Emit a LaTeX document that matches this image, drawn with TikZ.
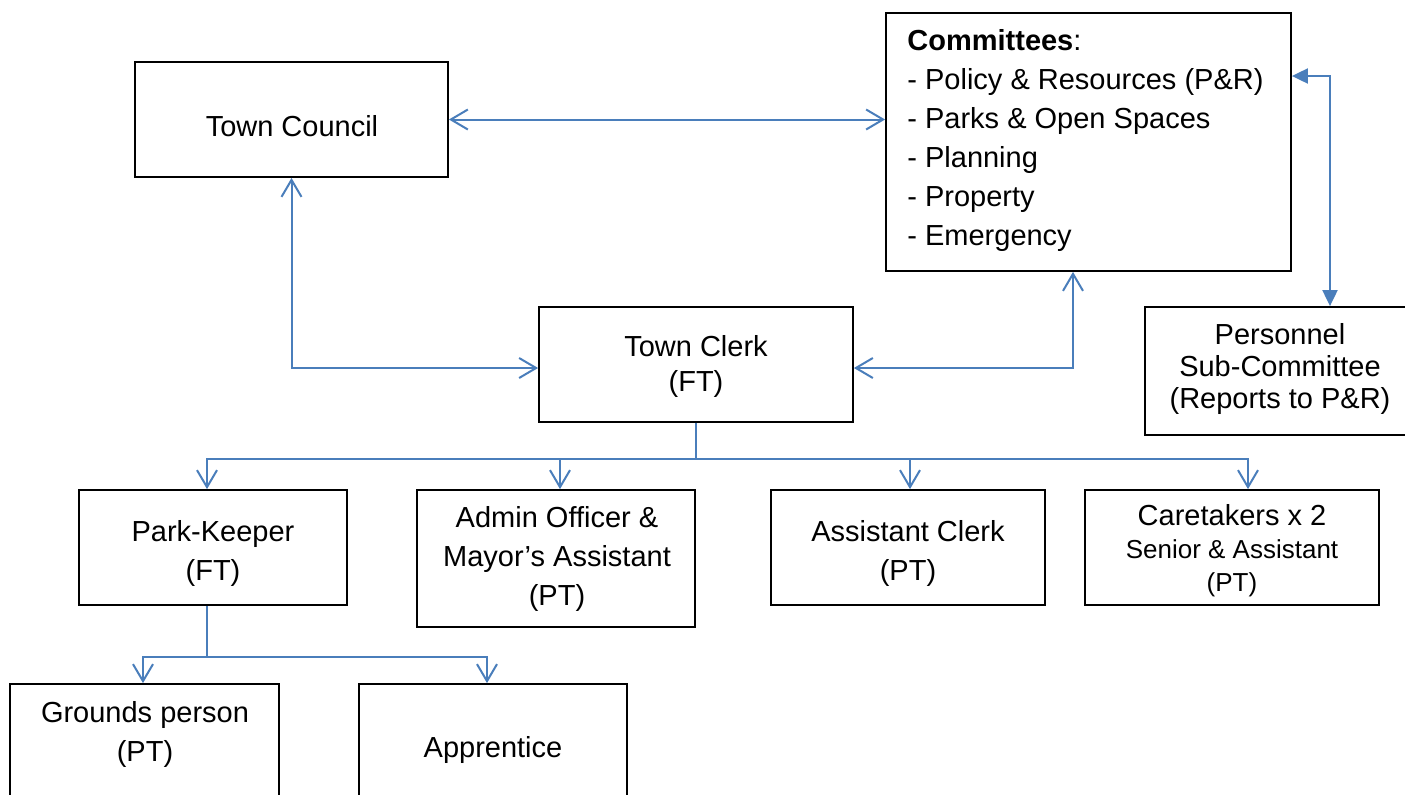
\documentclass[tikz,border=0pt]{standalone}
\usepackage{fontspec}
\setmainfont{Liberation Sans}
\usetikzlibrary{arrows.meta}
\definecolor{conn}{HTML}{4A7EBB}
\begin{document}
\begin{tikzpicture}[x=0.5pt,y=-0.5pt,
 box/.style={draw=black, line width=0.9pt, inner sep=0pt, rectangle},
 txt/.style={inner sep=0pt, align=center, font=\fontsize{14.5}{19.5}\selectfont},
 link/.style={draw=conn, line width=1pt},
 open/.style={link, -{Straight Barb[length=8.5pt,width=10pt]}},
 bopen/.style={link, {Straight Barb[length=8.5pt,width=10pt]}-{Straight Barb[length=8.5pt,width=10pt]}},
 bfill/.style={link, {Triangle[length=8pt,width=7.5pt]}-{Triangle[length=8pt,width=7.5pt]}},
]
\clip (0,0) rectangle (1405,794);
% boxes
\node[box, minimum width=156.5pt, minimum height=57.5pt] (tcou) at (291.5,119.5) {};
\node[box, minimum width=202.5pt, minimum height=129pt] (comm) at (1088.5,142) {};
\node[box, minimum width=133.5pt, minimum height=64pt] (pers) at (1278.5,371) {};
\node[box, minimum width=157pt, minimum height=57.5pt] (tclerk) at (696,364.5) {};
\node[box, minimum width=134pt, minimum height=57.5pt] (pk) at (213,547.5) {};
\node[box, minimum width=139pt, minimum height=68.5pt] (admin) at (556,558.5) {};
\node[box, minimum width=137pt, minimum height=57.5pt] (aclerk) at (908,547.5) {};
\node[box, minimum width=147pt, minimum height=57.5pt] (care) at (1232,547.5) {};
\node[box, minimum width=134.5pt, minimum height=63pt] (gp) at (144.5,747) {};
\node[box, minimum width=134pt, minimum height=63pt] (appr) at (493,747) {};
% texts
\node[txt] (tcout) at (292,126) {Town Council};
\node[txt, font=\fontsize{14.5}{17.5}\selectfont] (tclerkt) at (696,366) {Town Clerk\\(FT)};
\node[txt, align=left, anchor=west] (commt) at (907,140) {\textbf{Committees}:\\- Policy \& Resources (P\&R)\\- Parks \& Open Spaces\\- Planning\\- Property\\- Emergency};
\node[txt, font=\fontsize{14.5}{16}\selectfont] (perst) at (1280,369) {Personnel\\Sub-Committee\\(Reports to P\&R)};
\node[txt] (pkt) at (213,553) {Park-Keeper\\(FT)};
\node[txt] (admint) at (557,559) {Admin Officer \&\\Mayor’s Assistant\\(PT)};
\node[txt] (aclerkt) at (908,553) {Assistant Clerk\\(PT)};
\node[txt, font=\fontsize{13}{16.5}\selectfont] (caret) at (1232,551) {{\fontsize{14.5}{16.5}\selectfont Caretakers x 2}\\Senior \& Assistant\\(PT)};
\node[txt] (gpt) at (145,734) {Grounds person\\(PT)};
\node[txt] (apprt) at (493,750) {Apprentice};
% connectors
\draw[bopen] (tcou.east) -- (comm.west |- tcou.east);
\draw[bopen] (tcou.south) |- ([yshift=-1.75pt]tclerk.west);
\draw[bopen] ([yshift=-1.75pt]tclerk.east) -| ([xshift=-7.75pt]comm.south);
\draw[bfill] ([yshift=33pt]comm.east) -| ([xshift=25.75pt]pers.north);
\coordinate (bus) at ([yshift=-18pt]tclerk.south);
\draw[link] (tclerk.south) -- (bus);
\draw[open] (bus) -| ([xshift=-3pt]pk.north);
\draw[open] (bus) -| ([xshift=2pt]admin.north);
\draw[open] (bus) -| ([xshift=1pt]aclerk.north);
\draw[open] (bus) -| ([xshift=8pt]care.north);
\coordinate (pbus) at ([xshift=-3pt,yshift=-25.5pt]pk.south);
\draw[link] ([xshift=-3pt]pk.south) -- (pbus);
\draw[open] (pbus) -| ([xshift=-0.75pt]gp.north);
\draw[open] (pbus) -| ([xshift=-3pt]appr.north);
\end{tikzpicture}
\end{document}
